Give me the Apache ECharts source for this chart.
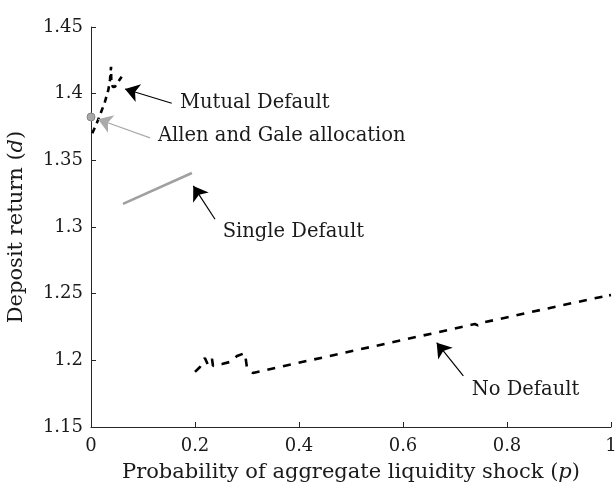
<!DOCTYPE html>
<html>
<head>
<meta charset="utf-8">
<script src="https://cdn.jsdelivr.net/npm/echarts@6/dist/echarts.min.js"></script>
<style>html,body{margin:0;padding:0;background:#fff}#c{width:616px;height:488px}</style>
</head>
<body>
<div id="c"></div>
<script>
// ---- data ----
var mutualDefault = [[0.0025,1.3703],[0.011,1.3778],[0.0173,1.384],[0.0269,1.394],[0.0333,1.4028],[0.0365,1.4103],[0.0375,1.4150],[0.0385,1.4202],[0.039,1.4100],[0.042,1.4050],[0.046,1.4052],[0.0525,1.409],[0.059,1.4127]];
var singleDefault = [[0.0615,1.3173],[0.194,1.3405]];
var noDefault = [[0.2,1.1913],[0.2096,1.195],[0.219,1.2018],[0.225,1.1965],[0.2327,1.201],[0.2346,1.1958],[0.2519,1.1972],[0.2673,1.1988],[0.2808,1.2032],[0.296,1.2055],[0.3,1.1943],[0.3115,1.1905],[0.415,1.1995],[0.5,1.2068],[0.6,1.2153],[0.738,1.2272],[0.744,1.2262],[0.75,1.2280],[0.9,1.2408],[0.984,1.2478],[0.988,1.2468],[0.992,1.2484],[1.0,1.249]];
var allenGale = [[0,1.3825]];
var xTicks = [0,0.2,0.4,0.6,0.8,1];
var yTicks = [1.15,1.2,1.25,1.3,1.35,1.4,1.45];
var annLabels = ['Mutual Default','Allen and Gale allocation','Single Default','No Default'];
var annTextAt = [[0.1712,1.393],[0.1288,1.3683],[0.2533,1.2965],[0.7321,1.1778]];
var annTail = [[0.1552,1.3928],[0.1135,1.3668],[0.2385,1.3058],[0.716,1.1883]];
var annTip = [[0.0654,1.4035],[0.0135,1.3808],[0.1967,1.3308],[0.6648,1.2132]];
var annColor = ['#000','#aaaaaa','#000','#000'];

var FONT = 'DejaVu Serif';
var TXT = '#1a1a1a';
var chart = echarts.init(document.getElementById('c'), null, {renderer:'canvas'});

var arrowData = annLabels.map(function(_, i){
  return {
    coords: [annTail[i], annTip[i]],
    lineStyle: {color: annColor[i]}
  };
});
var textData = annLabels.map(function(t, i){
  return {value: annTextAt[i], name: t};
});

chart.setOption({
  animation: false,
  grid: {left: 91, right: 5, top: 27, bottom: 61, containLabel: false, outerBoundsMode: 'none'},
  xAxis: {
    type: 'value', min: 0, max: 1, interval: 0.2,
    name: 'Probability of aggregate liquidity shock ({i|p})',
    nameLocation: 'middle', nameGap: 35,
    nameTextStyle: {fontFamily: FONT, fontSize: 21, color: TXT,
      rich: {i: {fontFamily: FONT, fontSize: 21, fontStyle: 'italic', color: TXT}}},
    axisLine: {onZero: false, lineStyle: {color: '#262626', width: 1}},
    axisTick: {inside: true, length: 5, lineStyle: {color: '#262626'}},
    axisLabel: {fontFamily: FONT, fontSize: 18, color: TXT, margin: 10,
      formatter: function(v){ return String(+v.toFixed(2)); }},
    splitLine: {show: false}
  },
  yAxis: {
    type: 'value', min: 1.15, max: 1.45, interval: 0.05,
    name: 'Deposit return ({i|d})',
    nameLocation: 'middle', nameGap: 64,
    nameTextStyle: {fontFamily: FONT, fontSize: 21, color: TXT,
      rich: {i: {fontFamily: FONT, fontSize: 21, fontStyle: 'italic', color: TXT}}},
    axisLine: {show: true, onZero: false, lineStyle: {color: '#262626', width: 1}},
    axisTick: {show: true, inside: true, length: 5, lineStyle: {color: '#262626'}},
    axisLabel: {fontFamily: FONT, fontSize: 18, color: TXT, margin: 8,
      formatter: function(v){ return String(+v.toFixed(2)); }},
    splitLine: {show: false}
  },
  series: [
    {type: 'line', data: noDefault, showSymbol: false, symbol: 'none',
      lineStyle: {color: '#000', width: 2.6, type: [8, 8]}},
    {type: 'line', data: mutualDefault, showSymbol: false, symbol: 'none',
      lineStyle: {color: '#000', width: 2.6, type: [6, 5]}},
    {type: 'line', data: singleDefault, showSymbol: false, symbol: 'none',
      lineStyle: {color: '#a0a0a0', width: 2.6}},
    {type: 'scatter', data: allenGale, symbol: 'circle', symbolSize: 8,
      itemStyle: {color: '#a8a8a8', borderColor: '#888', borderWidth: 1, opacity: 1}},
    {type: 'lines', coordinateSystem: 'cartesian2d', data: arrowData,
      symbol: ['none', 'arrow'], symbolSize: [0, 14],
      lineStyle: {width: 1.2, opacity: 1}, z: 5},
    {type: 'scatter', data: textData, symbolSize: 0, silent: true,
      itemStyle: {opacity: 1},
      label: {show: true, position: 'right', distance: 0, formatter: '{b}',
        fontFamily: FONT, fontSize: 19.5, color: TXT}}
  ]
});
</script>
</body>
</html>
